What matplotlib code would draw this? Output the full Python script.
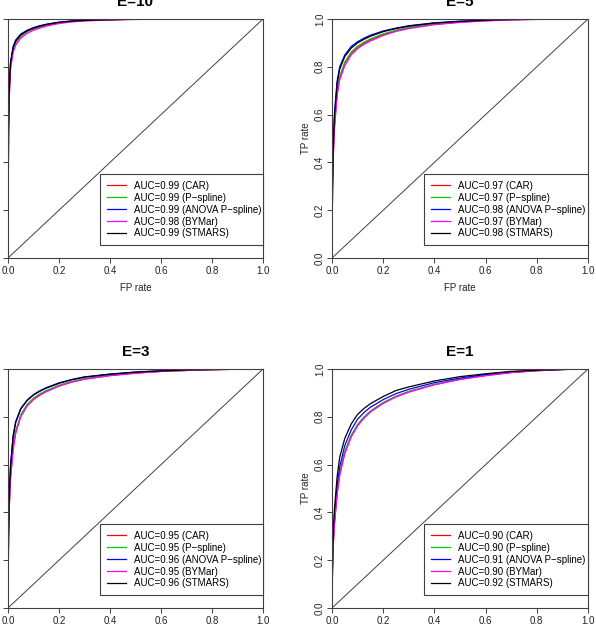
import numpy as np
from matplotlib import pyplot as plt

plt.rcParams['font.family'] = ['Liberation Sans', 'DejaVu Sans']

methods = ["CAR", "P\u2212spline", "ANOVA P\u2212spline", "BYMar", "STMARS"]
colors = ["#FF0000", "#00CD00", "#0000FF", "#FF00FF", "#000000"]

# shared false positive grid
fpr = [0, 0.002, 0.005, 0.01, 0.02, 0.03, 0.05, 0.075, 0.1, 0.125, 0.15, 0.2, 0.25, 0.3, 0.4, 0.5, 0.6, 0.7, 0.8, 0.9, 1.0]

# E=10
e10_car     = [0, 0.52, 0.69, 0.80, 0.87, 0.90, 0.928, 0.947, 0.958, 0.967, 0.974, 0.984, 0.990, 0.993, 0.997, 0.999, 1, 1, 1, 1, 1]
e10_pspline = [0, 0.53, 0.70, 0.81, 0.875, 0.903, 0.93, 0.948, 0.96, 0.968, 0.975, 0.985, 0.990, 0.994, 0.997, 0.999, 1, 1, 1, 1, 1]
e10_anova   = [0, 0.55, 0.72, 0.82, 0.885, 0.912, 0.937, 0.953, 0.964, 0.972, 0.978, 0.987, 0.992, 0.995, 0.998, 0.999, 1, 1, 1, 1, 1]
e10_bymar   = [0, 0.50, 0.67, 0.79, 0.86, 0.89, 0.92, 0.94, 0.953, 0.962, 0.97, 0.981, 0.988, 0.992, 0.996, 0.998, 1, 1, 1, 1, 1]
e10_stmars  = [0, 0.54, 0.71, 0.815, 0.88, 0.908, 0.934, 0.951, 0.962, 0.97, 0.977, 0.986, 0.991, 0.994, 0.997, 0.999, 1, 1, 1, 1, 1]
auc_e10 = [0.99, 0.99, 0.99, 0.98, 0.99]

# E=5
e5_car     = [0, 0.29, 0.44, 0.56, 0.69, 0.755, 0.815, 0.857, 0.882, 0.899, 0.913, 0.935, 0.951, 0.963, 0.978, 0.987, 0.993, 0.997, 0.999, 1, 1]
e5_pspline = [0, 0.295, 0.445, 0.565, 0.695, 0.76, 0.82, 0.862, 0.886, 0.903, 0.917, 0.938, 0.953, 0.965, 0.979, 0.988, 0.994, 0.997, 0.999, 1, 1]
e5_anova   = [0, 0.32, 0.48, 0.61, 0.74, 0.80, 0.85, 0.885, 0.905, 0.92, 0.932, 0.95, 0.962, 0.972, 0.984, 0.991, 0.995, 0.998, 0.999, 1, 1]
e5_bymar   = [0, 0.28, 0.42, 0.545, 0.68, 0.745, 0.805, 0.85, 0.876, 0.894, 0.908, 0.931, 0.948, 0.96, 0.976, 0.986, 0.992, 0.996, 0.998, 1, 1]
e5_stmars  = [0, 0.31, 0.47, 0.60, 0.73, 0.79, 0.843, 0.878, 0.9, 0.915, 0.928, 0.947, 0.96, 0.97, 0.983, 0.99, 0.995, 0.998, 0.999, 1, 1]
auc_e5 = [0.97, 0.97, 0.98, 0.97, 0.98]

# E=3
e3_car     = [0, 0.285, 0.43, 0.55, 0.67, 0.735, 0.803, 0.848, 0.874, 0.893, 0.907, 0.93, 0.946, 0.958, 0.973, 0.983, 0.99, 0.994, 0.997, 0.999, 1]
e3_pspline = [0, 0.29, 0.435, 0.555, 0.675, 0.74, 0.808, 0.852, 0.878, 0.896, 0.91, 0.932, 0.948, 0.96, 0.974, 0.984, 0.99, 0.994, 0.997, 0.999, 1]
e3_anova   = [0, 0.32, 0.48, 0.6, 0.72, 0.78, 0.835, 0.87, 0.893, 0.909, 0.922, 0.942, 0.956, 0.967, 0.979, 0.987, 0.993, 0.996, 0.998, 0.999, 1]
e3_bymar   = [0, 0.28, 0.42, 0.54, 0.66, 0.73, 0.8, 0.845, 0.872, 0.89, 0.905, 0.928, 0.945, 0.957, 0.972, 0.982, 0.99, 0.994, 0.997, 0.999, 1]
e3_stmars  = [0, 0.31, 0.47, 0.59, 0.715, 0.775, 0.832, 0.868, 0.891, 0.907, 0.92, 0.94, 0.955, 0.966, 0.978, 0.987, 0.992, 0.996, 0.998, 0.999, 1]
auc_e3 = [0.95, 0.95, 0.96, 0.95, 0.96]

# E=1
e1_car     = [0, 0.16, 0.27, 0.36, 0.48, 0.56, 0.65, 0.72, 0.765, 0.797, 0.822, 0.858, 0.885, 0.905, 0.935, 0.957, 0.973, 0.985, 0.993, 0.998, 1]
e1_pspline = [0, 0.165, 0.275, 0.365, 0.485, 0.565, 0.655, 0.723, 0.768, 0.8, 0.824, 0.86, 0.886, 0.906, 0.936, 0.958, 0.974, 0.986, 0.993, 0.998, 1]
e1_anova   = [0, 0.18, 0.3, 0.39, 0.51, 0.59, 0.68, 0.745, 0.79, 0.818, 0.84, 0.872, 0.897, 0.915, 0.943, 0.962, 0.977, 0.988, 0.994, 0.998, 1]
e1_bymar   = [0, 0.155, 0.265, 0.355, 0.475, 0.555, 0.645, 0.715, 0.762, 0.794, 0.82, 0.856, 0.883, 0.903, 0.934, 0.956, 0.972, 0.985, 0.993, 0.998, 1]
e1_stmars  = [0, 0.2, 0.33, 0.42, 0.55, 0.63, 0.71, 0.77, 0.81, 0.835, 0.855, 0.885, 0.91, 0.925, 0.95, 0.968, 0.98, 0.99, 0.995, 0.998, 1]
auc_e1 = [0.90, 0.90, 0.91, 0.90, 0.92]

panels = [
    ("E=10", [e10_car, e10_pspline, e10_anova, e10_bymar, e10_stmars], auc_e10),
    ("E=5", [e5_car, e5_pspline, e5_anova, e5_bymar, e5_stmars], auc_e5),
    ("E=3", [e3_car, e3_pspline, e3_anova, e3_bymar, e3_stmars], auc_e3),
    ("E=1", [e1_car, e1_pspline, e1_anova, e1_bymar, e1_stmars], auc_e1),
]

W, H = 596, 629
fig = plt.figure(figsize=(W/100, H/100), dpi=100)

# axes boxes in pixels: (left, top, right, bottom)
boxes = [(8, 19, 263, 258), (332, 19, 588, 258), (8, 369, 263, 608), (332, 369, 588, 608)]

edge = "#404040"
ticks = np.arange(0, 1.01, 0.2)
for (title, curves, aucs), (l, t, r, b) in zip(panels, boxes):
    ax = fig.add_axes([l/W, (H-b)/H, (r-l)/W, (b-t)/H])
    for tpr, col, m, a in zip(curves, colors, methods, aucs):
        ax.plot(fpr, tpr, color=col, lw=0.9, label=f"AUC={a:.2f} ({m})")
    ax.axline((0, 0), slope=1, color=edge, lw=0.7)
    ax.set_xlim(0, 1)
    ax.set_ylim(0, 1)
    ax.set_xticks(ticks)
    ax.set_yticks(ticks)
    ax.set_xticklabels([f"{v:.1f}" for v in ticks])
    ax.set_yticklabels([f"{v:.1f}" for v in ticks], rotation=90, va="center")
    ax.tick_params(direction="out", length=3.6, width=0.7, color=edge, labelsize=7, pad=2.5, labelcolor="#222222")
    ax.tick_params(axis="y", pad=1.5)
    for s in ax.spines.values():
        s.set_color(edge)
        s.set_linewidth(0.8)
    ax.set_xlabel("FP rate", fontsize=7, labelpad=5, color="#222222")
    ax.set_ylabel("TP rate", fontsize=7, labelpad=2.5, color="#222222")
    ax.set_title(title, fontsize=11, fontweight="bold", pad=9)
    leg = ax.legend(loc="upper left", bbox_to_anchor=(0.36, 0.352, 0.64, 0), mode="expand",
                    fontsize=7, frameon=True, fancybox=False, framealpha=1, edgecolor=edge,
                    handlelength=2.0, handletextpad=0.8, labelspacing=0.2, borderpad=0.7,
                    borderaxespad=0)
    leg.get_frame().set_linewidth(0.8)

fig.savefig("out.png", dpi=100)
